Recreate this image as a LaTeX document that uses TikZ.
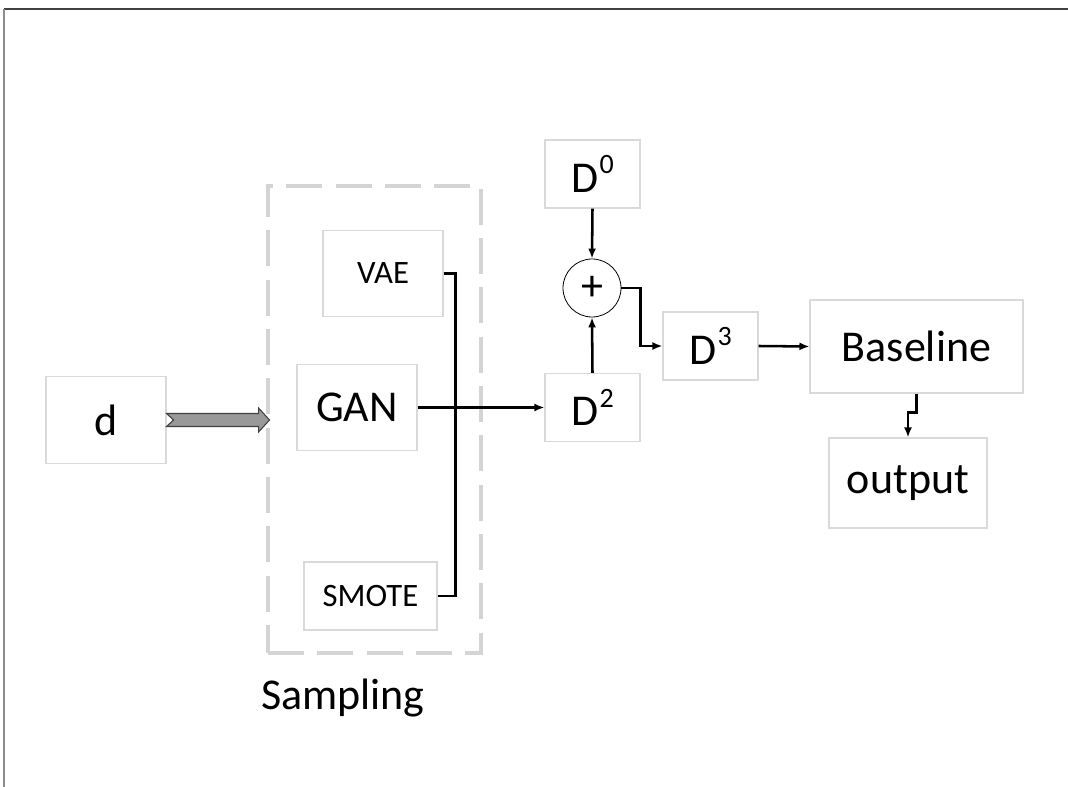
\documentclass[tikz,border=0pt]{standalone}
\usepackage{fontspec}
\setmainfont{Carlito}
\usepackage{tikz}
\usetikzlibrary{arrows.meta}

\newcommand{\dsup}[1]{D\kern1pt\raisebox{0.42em}{\fontsize{21}{21}\selectfont #1}}

\tikzset{
  blk/.style={draw=black!15, line width=0.8pt, inner sep=0pt},
  lnk/.style={line width=1.9pt},
  arr/.style={lnk, -{Latex[length=7.5pt,width=6pt]}},
  big/.style={font=\fontsize{33}{36}\selectfont},
  small/.style={font=\fontsize{24.5}{28}\selectfont}
}

\begin{document}
\begin{tikzpicture}[x=0.75pt, y=-0.75pt]
            \useasboundingbox (0,0) rectangle (1068,787);
            \draw[black!75, line width=0.8pt] (4,9) -- (1068,9);
            \draw[black!45, line width=0.8pt] (4,9) -- (4,787);
            % sampling group
            \node[draw=black!17, line width=2.5pt, dash pattern=on 27pt off 10pt,
                  minimum width=159.75pt, minimum height=350.25pt] (sampling) at (374.5,419.5) {};
            \node[big] (samplabel) at (343,698) {Sampling};
            \node[blk, big, minimum width=90pt, minimum height=65pt] (d) at (106,420) {d};
            \node[blk, small, minimum width=90pt, minimum height=65pt] (vae) at (383,273.5) {VAE};
            \node[blk, big, minimum width=90pt, minimum height=65pt] (gan) at (357,407.5) {GAN};
            \node[blk, small, minimum width=99.75pt, minimum height=51pt] (smote) at (370.5,596) {SMOTE};
            \node[blk, big, minimum width=71.25pt, minimum height=51pt] (d0) at (592.5,174) {\dsup{0}};
            \node[draw, circle, line width=0.6pt, minimum size=43.5pt, inner sep=0pt, big] (sum) at (592,288) {+};
            \node[blk, big, minimum width=71.25pt, minimum height=51pt] (d2) at (592.5,407.5) {\dsup{2}};
            \node[blk, big, minimum width=71.25pt, minimum height=51pt] (d3) at (710.5,346) {\dsup{3}};
            \node[blk, big, minimum width=159.75pt, minimum height=69.75pt] (base) at (916.5,346.5) {Baseline};
            \node[blk, big, minimum width=118.5pt, minimum height=67.5pt] (out) at (908,483) {output};
            % block arrow into the sampling group
            \draw[black!75, fill=black!40, line width=0.8pt] (d.east) ++(0,-6.5) -- ++(92,0) -- ++(0,-5.5)
                -- ++(11,12) -- ++(-11,12) -- ++(0,-5.5) -- ++(-92,0) -- ++(7,-6.5) -- cycle;
            \draw[lnk] (vae.east) -- ++(12,0) |- (smote.east);
            \draw[arr] (gan.east) -- (d2.west);
            \draw[arr] (d0.south) -- (sum.north);
            \draw[arr] (d2.north) -- (sum.south);
            \draw[arr] (sum.east) -- ++(19,0) |- (d3.west);
            \draw[arr] (d3.east) -- (base.west);
            \draw[arr] (base.south) -- ++(0,19) -| (out.north);
        \end{tikzpicture}
\end{document}
